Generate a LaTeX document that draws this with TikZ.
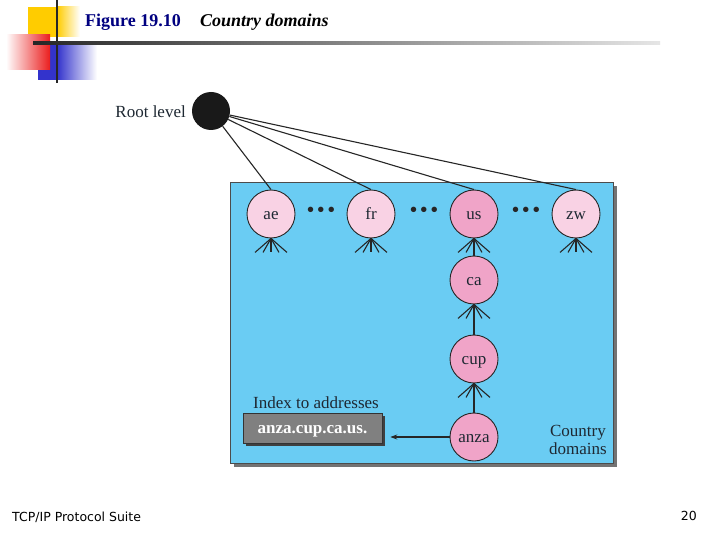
\documentclass[tikz,border=0pt]{standalone}
\usepackage{fontspec}
\setmainfont{Liberation Serif}
\newfontfamily\footfont{DejaVu Sans}
\usetikzlibrary{arrows.meta}
\definecolor{pinkL}{RGB}{249,210,228}
\definecolor{pinkD}{RGB}{240,164,200}
\definecolor{panelC}{RGB}{106,204,243}
\definecolor{navyC}{RGB}{0,0,128}
\definecolor{yellowC}{RGB}{255,204,0}
\definecolor{blueC}{RGB}{51,51,204}
\definecolor{redC}{RGB}{235,30,30}
\definecolor{txtC}{RGB}{30,40,50}
\begin{document}
\begin{tikzpicture}[x=1pt,y=-1pt,
  lightc/.style={circle,draw=black!85,line width=0.9pt,fill=pinkL,minimum size=48pt,inner sep=0pt,font=\fontsize{17}{17}\selectfont,text=txtC,text height=12pt,text depth=2pt},
  darkc/.style={lightc,fill=pinkD},
  conn/.style={line width=1.1pt,draw=black!85},
  lbl/.style={font=\fontsize{17}{18}\selectfont,text=txtC,inner sep=0pt},
  dotsn/.style={font=\fontsize{20}{20}\selectfont\bfseries,inner sep=0pt,text=black!85}]
\useasboundingbox (0,0) rectangle (720,540);
\fill[white] (0,0) rectangle (720,540);
% decoration
\fill[yellowC] (28,7) rectangle (57,37);
\shade[left color=yellowC,right color=white] (57,7) rectangle (80,37);
\fill[blueC] (38,43) rectangle (57,80);
\shade[left color=blueC,right color=white] (57,43) rectangle (97,80);
\shade[left color=white,right color=redC] (6,35) rectangle (50,70);
\draw[line width=2pt,black!85] (57,0) -- (57,83);
\shade[left color=black!85,right color=black!10] (33,42) rectangle (660,45);
% title
\node[anchor=west,inner sep=0pt,font=\fontsize{18}{18}\selectfont\bfseries,text=navyC] (fig) at (85,22) {Figure 19.10};
\node[anchor=west,inner sep=0pt,font=\fontsize{18}{18}\selectfont\bfseries\itshape] (title) at (200,22) {Country domains};
% root
\node[circle,fill=black!90,minimum size=38pt,inner sep=0pt] (root) at (211,111) {};
\node[lbl,anchor=east] (rootl) at (186,112) {Root level};
% panel
\fill[black!55] (234,186) rectangle (617,467);
\draw[fill=panelC,draw=black!70,line width=0.8pt] (230,182) rectangle (613,463);
% nodes
\node[lightc] (ae) at (271,214) {ae};
\node[lightc] (fr) at (371,214) {fr};
\node[darkc] (us) at (474,214) {us};
\node[lightc] (zw) at (576,214) {zw};
\node[darkc] (ca) at (474,280) {ca};
\node[darkc] (cup) at (474,359) {cup};
\node[darkc] (anza) at (474,437) {anza};
\node[dotsn] (d1) at (321,212) {•\,•\,•};
\node[dotsn] (d2) at (424,212) {•\,•\,•};
\node[dotsn] (d3) at (526,212) {•\,•\,•};
% root connectors
\foreach \n in {ae,fr,us,zw} \draw[conn] (root) -- (\n.north);
% fans
\foreach \n in {ae,fr,us,zw,ca,cup}
  \foreach \dx in {-16,-8,8,16} \draw[conn] (\n.south) -- ++(\dx,14);
\foreach \n in {ae,fr,zw} \draw[conn] (\n.south) -- ++(0,14);
\draw[conn] (ca) -- (us);
\draw[conn] (cup) -- (ca);
\draw[conn] (anza) -- (cup);
% index box
\fill[black!75] (246,416) rectangle (385,446);
\node[draw=black!80,line width=0.6pt,fill=black!50,minimum width=139pt,minimum height=30pt,inner sep=0pt,text=white,font=\fontsize{17}{17}\selectfont\bfseries,text height=12pt,text depth=2pt] (box) at (312.5,428) {anza.cup.ca.us.};
\node[lbl,anchor=west] (idx) at (253,403) {Index to addresses};
\draw[conn,-{Stealth[length=7pt,width=5pt]},shorten >=8pt] (anza.west) -- (box.east |- anza.west);
\node[lbl,align=center] (cd) at (578,440) {Country\\domains};
% footer
\node[anchor=west,inner sep=0pt,font=\footfont\fontsize{12.5}{13}\selectfont] (foot) at (12,517) {TCP/IP Protocol Suite};
\node[anchor=east,inner sep=0pt,font=\footfont\fontsize{12.5}{13}\selectfont] (pg) at (697,516) {20};
\end{tikzpicture}
\end{document}
